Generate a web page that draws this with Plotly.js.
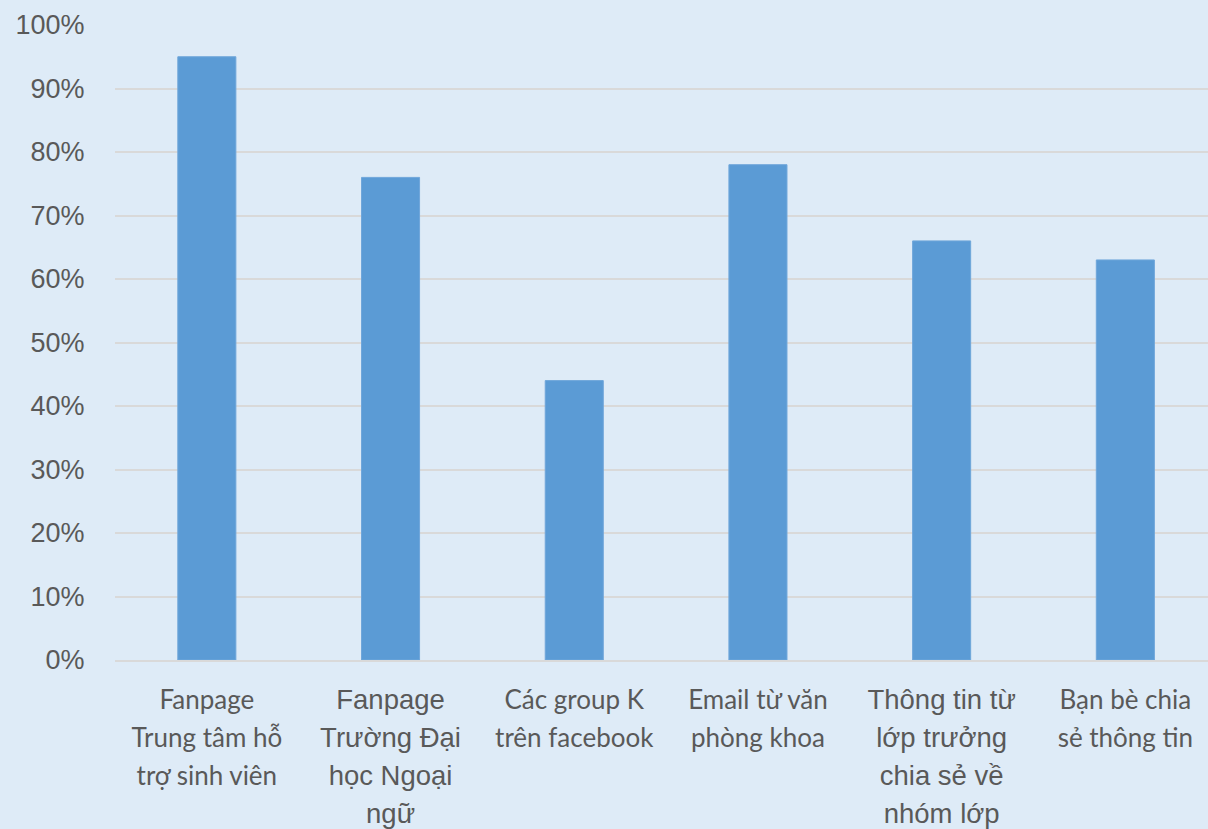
<!DOCTYPE html>
<html>
<head>
<meta charset="utf-8">
<script src="https://cdn.plot.ly/plotly-3.0.1.min.js"></script>
<style>html,body{margin:0;padding:0;background:#deebf7;}#chart{width:1208px;height:829px;}</style>
</head>
<body>
<div id="chart"></div>
<script>
const categories = [
  "Fanpage Trung tâm hỗ trợ sinh viên",
  "Fanpage Trường Đại học Ngoại ngữ",
  "Các group K trên facebook",
  "Email từ văn phòng khoa",
  "Thông tin từ lớp trưởng chia sẻ về nhóm lớp",
  "Bạn bè chia sẻ thông tin"
];
const tickLabels = [
  "<span style='font-family:Lato;font-size:26px'>Fanpage<br>Trung tâm hỗ<br>trợ sinh viên</span>",
  "<span style='font-size:27.5px'>Fanpage<br>Trường Đại<br>học Ngoại<br>ngữ</span>",
  "<span style='font-family:Lato;font-size:26px'>Các group K<br>trên facebook</span>",
  "<span style='font-family:Lato;font-size:26px'>Email từ văn<br>phòng khoa</span>",
  "<span style='font-size:27.5px'>Thông tin từ<br>lớp trưởng<br>chia sẻ về<br>nhóm lớp</span>",
  "<span style='font-family:Lato;font-size:26px'>Bạn bè chia<br>sẻ thông tin</span>"
];
const values = [0.95, 0.76, 0.44, 0.78, 0.66, 0.63];
const yTicks = [0, 0.1, 0.2, 0.3, 0.4, 0.5, 0.6, 0.7, 0.8, 0.9, 1.0];

const trace = {
  type: 'bar',
  x: categories,
  y: values,
  width: 0.316,
  marker: {color: '#5b9bd5', line: {color: '#6fa6da', width: 1}},
  hoverinfo: 'x+y'
};

const layout = {
  width: 1208, height: 829,
  paper_bgcolor: '#deebf7',
  plot_bgcolor: '#deebf7',
  margin: {l: 115, r: 0, t: 25, b: 169},
  showlegend: false,
  font: {family: 'Liberation Sans, Arial, sans-serif', color: '#595959', size: 27},
  xaxis: {
    type: 'category',
    range: [-0.5, 5.45],
    tickmode: 'array',
    tickvals: categories,
    ticktext: tickLabels,
    showline: true, linecolor: '#d9d9d9', linewidth: 2,
    ticks: 'outside', ticklen: 12, tickcolor: 'rgba(0,0,0,0)',
    tickfont: {size: 29.3, color: '#595959'},
    showgrid: false, zeroline: false, fixedrange: true
  },
  yaxis: {
    range: [0, 1.0],
    tickmode: 'array',
    tickvals: yTicks,
    tickformat: '.0%',
    showgrid: true, gridcolor: '#d9d9d9', gridwidth: 2,
    zeroline: false, showline: false,
    ticks: 'outside', ticklen: 24, tickcolor: 'rgba(0,0,0,0)',
    tickfont: {size: 27, color: '#595959'},
    fixedrange: true
  }
};

Plotly.newPlot('chart', [trace], layout, {displayModeBar: false, staticPlot: true});
</script>
</body>
</html>
